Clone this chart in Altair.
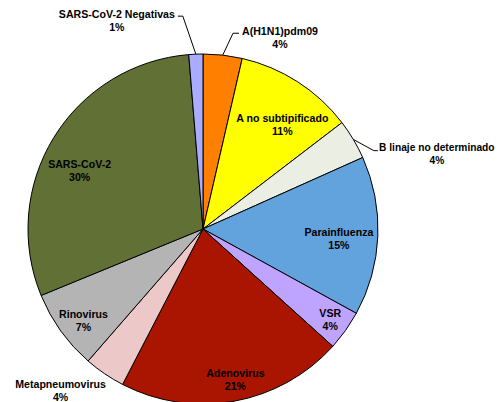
import math
import altair as alt
import pandas as pd

# ---- data ----
names = ["A(H1N1)pdm09", "A no subtipificado", "B linaje no determinado",
         "Parainfluenza", "VSR", "Adenovirus", "Metapneumovirus",
         "Rinovirus", "SARS-CoV-2", "SARS-CoV-2 Negativas"]
values = [3.6, 11.0, 3.7, 14.7, 3.7, 20.9, 3.8, 7.4, 29.9, 1.3]
pct_labels = ["4%", "11%", "4%", "15%", "4%", "21%", "4%", "7%", "30%", "1%"]

# ---- style / layout ----
colors = ["#FF8000", "#FFFF00", "#EBEFE3", "#62A3DD", "#BEA3FF",
          "#A91500", "#ECC8C8", "#B4B4B4", "#617136", "#A9ACFF"]
W, H = 488, 394
CX, CY, R = 195, 221, 175
LH = 13  # line height of labels
# label anchor radius along each slice's mid angle, then pixel shift
label_r = [195, 130, 200, 136, 155, 154, 200, 152, 140, 200]
label_dx = [55, 9, 62, 0, 1, 5, -30, 4, -4, -78]
label_dy = [3, 6, 28, 5, 2, 0, -3, 4, 16, -8]
label_size = [10.6, 10.6, 10.2, 10.6, 10.6, 10.6, 10.6, 10.6, 10.6, 10.6]
# leader lines: offsets of knee and end from label anchor
leaders = {
    "A(H1N1)pdm09": ((8, -2), (14, -2)),
    "B linaje no determinado": ((-1, 24), (3, 24)),
    "SARS-CoV-2 Negativas": ((-12, -13), (-17, -13)),
}

df = pd.DataFrame({
    "name": names,
    "value": values,
    "idx": list(range(len(names))),
    "lr": label_r,
    "label": [[n, p] for n, p in zip(names, pct_labels)],
})

# leader line points, derived from the data angles
total = sum(values)
rows = []
cum = 0.0
for n, v, lr in zip(names, values, label_r):
    mid = (cum + v / 2) / total * 2 * math.pi
    cum += v
    if n in leaders:
        sx, sy = math.sin(mid), -math.cos(mid)
        ax, ay = lr * sx, lr * sy
        (kx, ky), (ex, ey) = leaders[n]
        pts = [(R * sx, R * sy), (ax + kx, ay + ky), (ax + ex, ay + ey)]
        for i, (x, y) in enumerate(pts):
            rows.append({"name": n, "o": i, "x": x, "y": y})
lines_df = pd.DataFrame(rows)

color_scale = alt.Scale(domain=names, range=colors)

arcs = alt.Chart(df).mark_arc(outerRadius=R, stroke="#000000", strokeWidth=1).encode(
    theta=alt.Theta("value:Q", stack=True),
    color=alt.Color("name:N", scale=color_scale, legend=None),
    order=alt.Order("idx:Q"),
    x=alt.value(CX),
    y=alt.value(CY),
)

font = dict(font="Liberation Sans", fontWeight="bold",
            color="#000000", lineHeight=LH, align="center", baseline="middle")


def text_layer(name, dx, dy, size):
    base = alt.Chart(df).transform_joinaggregate(
        total="sum(value)"
    ).transform_window(
        cum="sum(value)", sort=[alt.SortField("idx")], frame=[None, 0]
    ).transform_calculate(
        mid="(datum.cum - datum.value/2) / datum.total * 2 * PI"
    ).transform_filter(
        alt.FieldEqualPredicate(field="name", equal=name)
    )
    return base.mark_text(dx=dx, dy=dy - LH / 2, fontSize=size, **font).encode(
        theta=alt.Theta("mid:Q", scale=None),
        radius=alt.Radius("lr:Q", scale=None),
        text="label",
        x=alt.value(CX),
        y=alt.value(CY),
    )


texts = [text_layer(n, dx, dy, s)
         for n, dx, dy, s in zip(names, label_dx, label_dy, label_size)]

xs = alt.Scale(domain=[-CX, W - CX], range=[0, W])
ys = alt.Scale(domain=[-CY, H - CY], range=[0, H])
lead = alt.Chart(lines_df).mark_line(color="#000000", strokeWidth=1).encode(
    x=alt.X("x:Q", scale=xs, axis=None),
    y=alt.Y("y:Q", scale=ys, axis=None),
    detail="name:N",
    order="o:Q",
)

chart = alt.layer(arcs, lead, *texts).properties(
    width=W, height=H, padding=0,
    autosize=alt.AutoSizeParams(type="none"),
).configure_view(stroke=None)

chart.save("out.html", embed_options={"renderer": "svg", "actions": False})
